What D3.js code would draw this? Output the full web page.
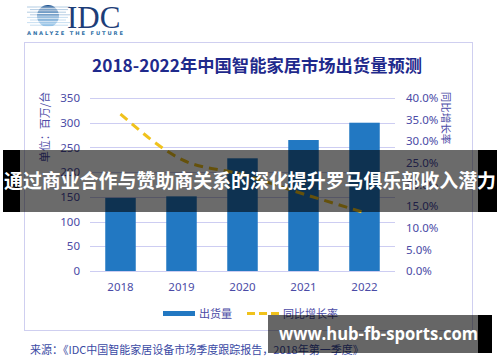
<!DOCTYPE html>
<html>
<head>
<meta charset="utf-8">
<script src="https://cdn.jsdelivr.net/npm/d3@7/dist/d3.min.js"></script>
<style>
  html, body { margin: 0; padding: 0; background: #fff; }
  svg { display: block; font-family: "Noto Sans CJK SC", "Noto Sans", sans-serif; }
</style>
</head>
<body>
<svg id="chart" width="500" height="362"></svg>
<script>
// data
const years = ['2018', '2019', '2020', '2021', '2022'];
const shipments = [148, 151, 228, 265, 300];          // 百万台
const growth = [36.3, 25.8, 22.3, 17.8, 13.5];          // %
const leftTicks = [0, 50, 100, 150, 200, 250, 300, 350];
const rightTicks = [0, 5, 10, 15, 20, 25, 30, 35, 40];

const svg = d3.select('#chart');
const axisColor = '#4b4ba6';

// frame
svg.append('rect')
	.attr('x', 24.5).attr('y', 42.5)
	.attr('width', 448).attr('height', 288)
	.attr('fill', 'none')
	.attr('stroke', '#cfcff0');

// logo
const logo = svg.append('g');
const grad = svg.append('defs').append('linearGradient')
	.attr('id', 'globe').attr('x1', 0).attr('y1', 0).attr('x2', 0).attr('y2', 1);
grad.append('stop').attr('offset', '0%').attr('stop-color', '#1d4f8c');
grad.append('stop').attr('offset', '100%').attr('stop-color', '#6db3e6');
logo.append('circle').attr('cx', 48).attr('cy', 16).attr('r', 11).attr('fill', 'url(#globe)');
d3.range(8).forEach(function(i) {
	var y = 7 + i * 2.6;
	logo.append('line')
		.attr('x1', 27 + (i % 2) * 3).attr('x2', 70 - (i % 3) * 2)
		.attr('y1', y).attr('y2', y)
		.attr('stroke', i < 4 ? '#9fbfdc' : '#b9d6ee')
		.attr('stroke-width', 0.8);
	logo.append('line')
		.attr('x1', 37).attr('x2', 59)
		.attr('y1', y + 1.3).attr('y2', y + 1.3)
		.attr('stroke', '#ffffff')
		.attr('stroke-width', 0.9);
});
logo.append('text')
	.attr('x', 67).attr('y', 27.5)
	.attr('font-family', 'Liberation Serif, DejaVu Serif, serif')
	.attr('font-size', 31)
	.attr('fill', '#1d3d78')
	.text('IDC');
logo.append('text')
	.attr('x', 27).attr('y', 35)
	.attr('font-family', 'DejaVu Sans, sans-serif')
	.attr('font-size', 5.2)
	.attr('font-weight', 'bold')
	.attr('textLength', 96)
	.attr('lengthAdjust', 'spacing')
	.attr('fill', '#2f6fa6')
	.text('ANALYZE THE FUTURE');

// title
svg.append('text')
	.attr('x', 257).attr('y', 72)
	.attr('text-anchor', 'middle')
	.attr('font-size', 17)
	.attr('font-weight', 'bold')
	.attr('textLength', 330)
	.attr('lengthAdjust', 'spacingAndGlyphs')
	.attr('fill', '#1f2a8c')
	.text('2018-2022年中国智能家居市场出货量预测');

// scales
const x = d3.scaleBand().domain(years).range([90, 395]).paddingInner(0.5).paddingOuter(0.25);
const y = d3.scaleLinear().domain([0, 350]).range([271, 98]);
const y2 = d3.scaleLinear().domain([0, 40]).range([271, 98]);

// grid
svg.append('g').selectAll('line')
	.data(leftTicks)
	.join('line')
	.attr('x1', 90).attr('x2', 395)
	.attr('y1', d => Math.round(y(d)) + 0.5)
	.attr('y2', d => Math.round(y(d)) + 0.5)
	.attr('stroke', '#cdcdf2');

// left axis
const leftAxis = svg.append('g')
	.attr('transform', 'translate(86,0)')
	.call(d3.axisLeft(y).tickValues(leftTicks).tickSize(0).tickPadding(6));
leftAxis.select('.domain').remove();
leftAxis.selectAll('text').attr('fill', axisColor).attr('font-size', 11.5)
	.attr('font-family', 'Noto Sans, sans-serif');

// right axis
const rightAxis = svg.append('g')
	.attr('transform', 'translate(400,0)')
	.call(d3.axisRight(y2).tickValues(rightTicks).tickSize(0).tickPadding(6)
		.tickFormat(d => d.toFixed(1) + '%'));
rightAxis.select('.domain').remove();
rightAxis.selectAll('text').attr('fill', axisColor).attr('font-size', 11.5)
	.attr('font-family', 'Noto Sans, sans-serif');

// axis titles
svg.append('text')
	.attr('transform', 'translate(49,127) rotate(-90)')
	.attr('text-anchor', 'middle')
	.attr('font-size', 11)
	.attr('fill', axisColor)
	.text('单位：百万/台');
svg.append('text')
	.attr('transform', 'translate(442,118) rotate(90)')
	.attr('text-anchor', 'middle')
	.attr('font-size', 10.5)
	.attr('fill', axisColor)
	.text('同比增长率');

// bars
svg.append('g').selectAll('rect')
	.data(shipments)
	.join('rect')
	.attr('x', (d, i) => x(years[i]))
	.attr('width', x.bandwidth())
	.attr('y', d => y(d))
	.attr('height', d => y(0) - y(d))
	.attr('fill', '#2278c2');

// x labels
svg.append('g').selectAll('text')
	.data(years)
	.join('text')
	.attr('x', d => x(d) + x.bandwidth() / 2)
	.attr('y', 291)
	.attr('text-anchor', 'middle')
	.attr('font-size', 11.5)
	.attr('font-family', 'Noto Sans, sans-serif')
	.attr('fill', axisColor)
	.text(d => d);

// growth line
const line = d3.line()
	.x((d, i) => x(years[i]) + x.bandwidth() / 2)
	.y(d => y2(d))
	.curve(d3.curveMonotoneX);
svg.append('path')
	.datum(growth)
	.attr('d', line)
	.attr('fill', 'none')
	.attr('stroke', '#f0c21c')
	.attr('stroke-width', 3)
	.attr('stroke-dasharray', '9,6');

// legend
svg.append('rect')
	.attr('x', 163).attr('y', 311).attr('width', 32).attr('height', 5)
	.attr('fill', '#2278c2');
svg.append('text')
	.attr('x', 199).attr('y', 317.5)
	.attr('font-size', 11).attr('fill', axisColor)
	.text('出货量');
svg.append('line')
	.attr('x1', 247).attr('x2', 279).attr('y1', 313.5).attr('y2', 313.5)
	.attr('stroke', '#f0c21c').attr('stroke-width', 3)
	.attr('stroke-dasharray', '8,4');
svg.append('text')
	.attr('x', 283).attr('y', 317.5)
	.attr('font-size', 11).attr('fill', axisColor)
	.text('同比增长率');

// source
svg.append('text')
	.attr('x', 30).attr('y', 354)
	.attr('font-size', 11).attr('fill', '#3a4aa4')
	.text('来源：《IDC中国智能家居设备市场季度跟踪报告，2018年第一季度》');

// banner overlay
svg.append('rect').attr('x', 3).attr('y', 150).attr('width', 17).attr('height', 62).attr('fill', '#000');
svg.append('rect').attr('x', 478).attr('y', 150).attr('width', 19).attr('height', 62).attr('fill', '#000');
svg.append('rect').attr('x', 20).attr('y', 150).attr('width', 458).attr('height', 62)
	.attr('fill', '#000').attr('fill-opacity', 0.58);
svg.append('text')
	.attr('x', 250).attr('y', 188)
	.attr('text-anchor', 'middle')
	.attr('font-size', 19.5)
	.attr('font-weight', 'bold')
	.attr('textLength', 492)
	.attr('lengthAdjust', 'spacingAndGlyphs')
	.attr('fill', '#fff')
	.text('通过商业合作与赞助商关系的深化提升罗马俱乐部收入潜力');

// watermark
svg.append('rect').attr('x', 478).attr('y', 315).attr('width', 14).attr('height', 38).attr('fill', '#000');
svg.append('rect').attr('x', 268).attr('y', 315).attr('width', 210).attr('height', 38)
	.attr('fill', '#000').attr('fill-opacity', 0.6);
svg.append('text')
	.attr('x', 279).attr('y', 340)
	.attr('font-family', 'Open Sans, Noto Sans, sans-serif')
	.attr('font-size', 17)
	.attr('font-weight', 'bold')
	.attr('textLength', 199)
	.attr('lengthAdjust', 'spacingAndGlyphs')
	.attr('fill', '#fff')
	.text('www.hub-fb-sports.com');
</script>
</body>
</html>
